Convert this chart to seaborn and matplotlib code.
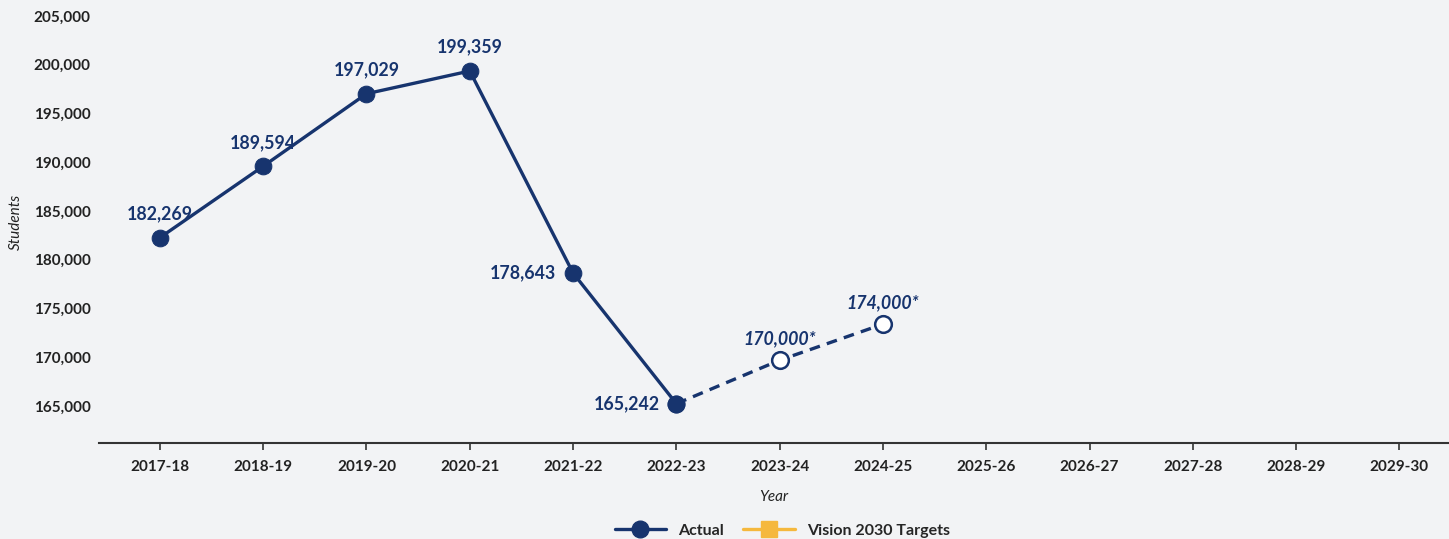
import pandas as pd
import matplotlib.pyplot as plt
from matplotlib.lines import Line2D
import seaborn as sns

# ---------------------------------------------------
# Data
# ---------------------------------------------------
years = ["2017-18", "2018-19", "2019-20", "2020-21", "2021-22", "2022-23",
         "2023-24", "2024-25", "2025-26", "2026-27", "2027-28", "2028-29", "2029-30"]

actual_years = ["2017-18", "2018-19", "2019-20", "2020-21", "2021-22", "2022-23"]
actual_values = [182269, 189594, 197029, 199359, 178643, 165242]

est_years = ["2022-23", "2023-24", "2024-25"]
est_values = [165242, 169700, 173400]
est_labels = ["170,000*", "174,000*"]

NAVY = "#17346E"
GOLD = "#F5B83D"
BG = "#F2F3F5"

sns.set_theme(style="white")
plt.rcParams["font.family"] = ["Lato", "DejaVu Sans"]

df_act = pd.DataFrame({"x": [years.index(y) for y in actual_years], "students": actual_values})
df_est = pd.DataFrame({"x": [years.index(y) for y in est_years], "students": est_values})

fig = plt.figure(figsize=(14.49, 5.39), dpi=100, facecolor=BG)
ax = fig.add_axes([0.0683, 0.178, 0.9317, 0.822])
ax.set_facecolor(BG)

# Actual series
sns.lineplot(data=df_act, x="x", y="students", ax=ax, color=NAVY, linewidth=2.4,
             marker="o", markersize=12, markeredgecolor=NAVY, markerfacecolor=NAVY)

# Estimated (dashed) series
sns.lineplot(data=df_est, x="x", y="students", ax=ax, color=NAVY, linewidth=2.4,
             linestyle=(0, (3.2, 2.2)))
ax.plot(df_est["x"][1:], df_est["students"][1:], linestyle="none", marker="o",
        markersize=12, markerfacecolor="white", markeredgecolor=NAVY, markeredgewidth=1.8,
        zorder=5)
ax.plot(df_act["x"].iloc[-1:], df_act["students"].iloc[-1:], linestyle="none", marker="o",
        markersize=12, color=NAVY, zorder=6)

# Data labels
above = [0, 1, 2, 3]
for i, (x, v) in enumerate(zip(df_act["x"], df_act["students"])):
    if i in above:
        ax.annotate(f"{v:,}", (x, v), xytext=(0, 11), textcoords="offset points",
                    ha="center", va="bottom", fontsize=12.8, fontweight="bold", color=NAVY)
    else:
        ax.annotate(f"{v:,}", (x, v), xytext=(-12, 0), textcoords="offset points",
                    ha="right", va="center", fontsize=12.8, fontweight="bold", color=NAVY)

for x, v, lab in zip(df_est["x"][1:], df_est["students"][1:], est_labels):
    ax.annotate(lab, (x, v), xytext=(0, 9), textcoords="offset points",
                ha="center", va="bottom", fontsize=12.8, fontweight="bold",
                fontstyle="italic", color=NAVY)

# Axes
ax.set_xlim(-0.59, 12.48)
ax.set_ylim(161205, 206640)
ax.set_xticks(range(len(years)))
ax.set_xticklabels(years, fontsize=11, fontweight="bold", color="#222222")
ax.set_yticks(range(165000, 205001, 5000))
ax.set_yticklabels([f"{t:,}" for t in range(165000, 205001, 5000)],
                   fontsize=11, fontweight="bold", color="#222222")
ax.tick_params(axis="x", length=5, width=1.2, color="#333333", pad=7, bottom=True)
ax.tick_params(axis="y", length=0, pad=6)

ax.set_xlabel("Year", fontsize=11, fontstyle="italic", color="#222222", labelpad=12)
ax.set_ylabel("Students", fontsize=11, fontstyle="italic", color="#222222", labelpad=8)

for s in ["top", "right", "left"]:
    ax.spines[s].set_visible(False)
ax.spines["bottom"].set_color("#333333")
ax.spines["bottom"].set_linewidth(1.5)

# Legend
handles = [
    Line2D([0], [0], color=NAVY, linewidth=2.4, marker="o", markersize=12),
    Line2D([0], [0], color=GOLD, linewidth=2.4, marker="s", markersize=12),
]
fig.legend(handles, ["Actual", "Vision 2030 Targets"], loc="center",
           bbox_to_anchor=(0.54, 0.015), ncol=2, frameon=False,
           prop={"weight": "bold", "size": 11.5}, handlelength=3.2, columnspacing=1.2)

fig.savefig("out.png", dpi=100, facecolor=BG)
